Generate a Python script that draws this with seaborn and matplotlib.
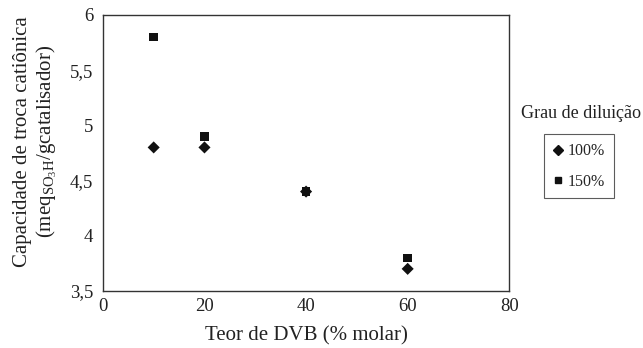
import seaborn as sns
import matplotlib.pyplot as plt
import pandas as pd
from matplotlib.lines import Line2D

sns.set_style("white")
plt.rcParams['font.family'] = ['Liberation Serif', 'DejaVu Serif']
plt.rcParams['mathtext.fontset'] = 'custom'
plt.rcParams['mathtext.rm'] = 'Liberation Serif'
plt.rcParams['mathtext.it'] = 'Liberation Serif:italic'

# Teor de DVB (% molar) vs capacidade de troca
dvb = [10, 20, 40, 60]
cap_100 = [4.8, 4.8, 4.4, 3.7]
cap_150 = [5.8, 4.9, 4.4, 3.8]
series = ["100%", "150%"]
yticks = [3.5, 4, 4.5, 5, 5.5, 6]
ytick_labels = ["3,5", "4", "4,5", "5", "5,5", "6"]
xticks = [0, 20, 40, 60, 80]

df = pd.DataFrame({
    "dvb": dvb + dvb,
    "cap": cap_100 + cap_150,
    "grau": [series[0]] * 4 + [series[1]] * 4,
})

fig = plt.figure(figsize=(6.43, 3.48), dpi=100)
ax = fig.add_axes([0.160, 0.164, 0.632, 0.793])

sns.scatterplot(data=df, x="dvb", y="cap", style="grau", hue="grau",
                markers={"100%": "D", "150%": "s"},
                palette={"100%": "#111111", "150%": "#111111"},
                s=38, edgecolor="none", ax=ax, legend=False)

ax.set_xlim(0, 80)
ax.set_ylim(3.5, 6)
ax.set_xticks(xticks)
ax.set_yticks(yticks)
ax.set_yticklabels(ytick_labels)
ax.tick_params(axis="both", direction="in", length=4, width=0.8,
               labelsize=13.5, colors="#222222", pad=7)
ax.tick_params(axis="x", length=0, pad=5)
for sp in ax.spines.values():
    sp.set_color("#333333")
    sp.set_linewidth(1.0)

ax.set_xlabel("Teor de DVB (% molar)", fontsize=15, color="#222222", labelpad=8)
ax.set_ylabel("Capacidade de troca catiônica\n"
              r"(meq$_{\mathrm{SO_3H}}$/gcatalisador)",
              fontsize=15, color="#222222", linespacing=1.15)
ax.yaxis.set_label_coords(-0.108, 0.54)

# legenda fora do eixo
handles = [Line2D([], [], marker="D", color="#111111", ls="", markersize=5),
           Line2D([], [], marker="s", color="#111111", ls="", markersize=5)]
fig.text(0.903, 0.675, "Grau de diluição", fontsize=13, ha="center",
         va="center", color="#222222")
leg = fig.legend(handles, series, loc="center", bbox_to_anchor=(0.900, 0.522),
                 frameon=True, fancybox=False, fontsize=11.5, handlelength=0.7,
                 handletextpad=0.25, borderpad=0.55, labelspacing=0.9,
                 borderaxespad=0)
leg.get_frame().set_edgecolor("#333333")
leg.get_frame().set_linewidth(0.8)

plt.savefig("out.png", dpi=100)
